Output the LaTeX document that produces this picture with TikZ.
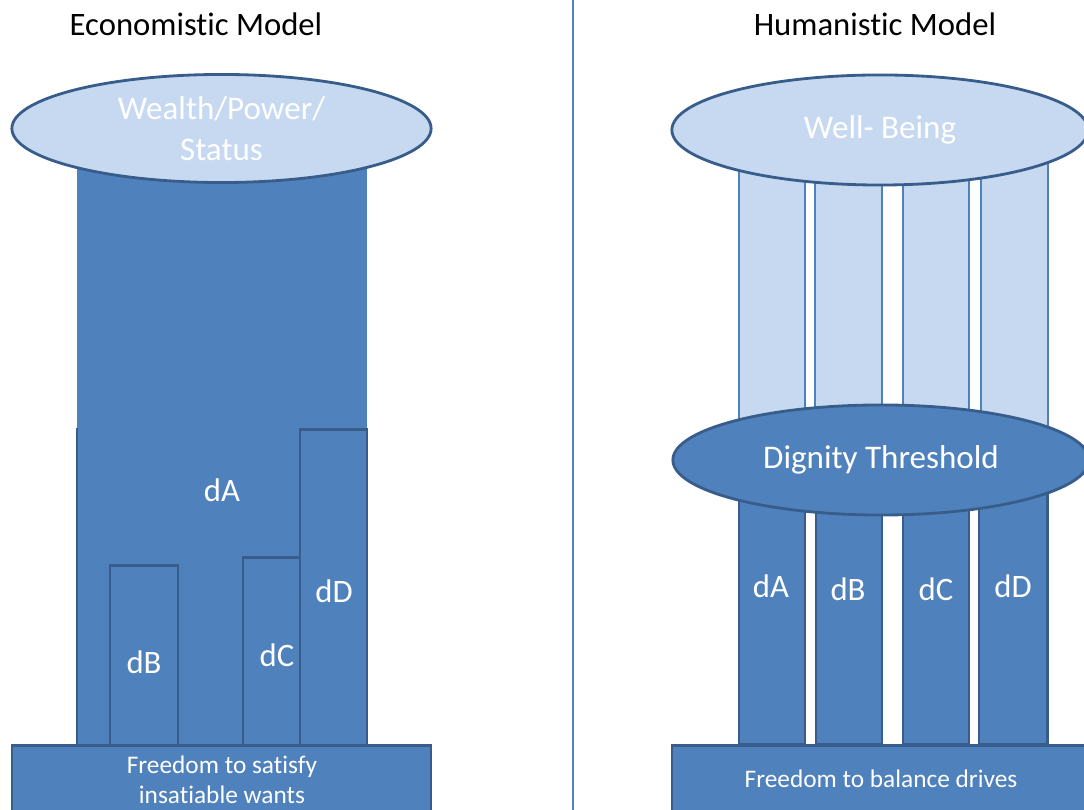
\documentclass[tikz,border=0pt]{standalone}
\usepackage{fontspec}
\setmainfont[Ligatures=NoCommon]{Carlito}
\usetikzlibrary{shapes.geometric}
\definecolor{darkfill}{HTML}{4F81BD}
\definecolor{darkline}{HTML}{385D8A}
\definecolor{lightfill}{HTML}{C6D9F1}
\begin{document}
\begin{tikzpicture}[x=0.01cm,y=-0.01cm]
    \tikzset{pillar/.style={draw=darkline, fill=darkfill, line width=0.85pt}}
    \tikzset{lightpillar/.style={draw=darkfill, fill=lightfill, line width=0.6pt}}
    \tikzset{disc/.style={ellipse, draw=darkline, line width=0.8pt, inner sep=0pt, align=center,
        text=white, font=\fontsize{9.4}{11.7}\selectfont}}
    \tikzset{label/.style={text=white, font=\fontsize{9.3}{11}\selectfont}}
    \tikzset{title/.style={text=black, font=\fontsize{9.3}{11}\selectfont}}
    \useasboundingbox (0,0) rectangle (1084,810);
    \clip (0,0) rectangle (1084,810);

    % divider
    \draw[darkfill, line width=0.6pt] (573,0) -- (573,810);

    % economistic model
    \node[title] (econ) at (196,24) {Economistic Model};
    \fill[darkfill] (77,150) rectangle (367,746);
    \draw[darkline, line width=0.85pt] (77,428) -- (77,746);
    \draw[pillar] (110,566) rectangle (178,746);
    \draw[pillar] (243,558) rectangle (300,746);
    \draw[pillar] (300,430) rectangle (367,746);
    \draw[pillar] (12,746) rectangle (431,830);
    \node[disc, fill=lightfill, minimum width=4.19cm, minimum height=1.08cm] (wealth) at (221.5,128.5) {Wealth/Power/\\Status};
    \node[label] (ea) at (222,490) {dA};
    \node[label] (eb) at (144,662) {dB};
    \node[label] (ec) at (277,655) {dC};
    \node[label] (ed) at (334,591) {dD};
    \node[label, align=center, font=\fontsize{7.2}{8.5}\selectfont] (efree) at (222,780) {Freedom to satisfy\\insatiable wants};

    % humanistic model
    \node[title] (human) at (875,24) {Humanistic Model};
    \draw[lightpillar] (739,150) rectangle (805,440);
    \draw[lightpillar] (815,150) rectangle (882,440);
    \draw[lightpillar] (903,150) rectangle (969,440);
    \draw[lightpillar] (981,150) rectangle (1048,440);
    \draw[pillar] (739,440) rectangle (805,745);
    \draw[pillar] (816,440) rectangle (882,745);
    \draw[pillar] (903,440) rectangle (969,745);
    \draw[pillar] (979,440) rectangle (1047,745);
    \node[disc, fill=darkfill, minimum width=4.16cm, minimum height=1.1cm] (dignity) at (881,460) {Dignity Threshold};
    \node[disc, fill=lightfill, minimum width=4.16cm, minimum height=1.1cm] (well) at (880,130) {Well- Being};
    \draw[pillar] (672,746) rectangle (1100,830);
    \node[label] (ha) at (771,586) {dA};
    \node[label] (hb) at (848,589) {dB};
    \node[label] (hc) at (936,589) {dC};
    \node[label] (hd) at (1013,586) {dD};
    \node[label, font=\fontsize{7.2}{8.5}\selectfont] (hfree) at (881,779) {Freedom to balance drives};
\end{tikzpicture}
\end{document}
